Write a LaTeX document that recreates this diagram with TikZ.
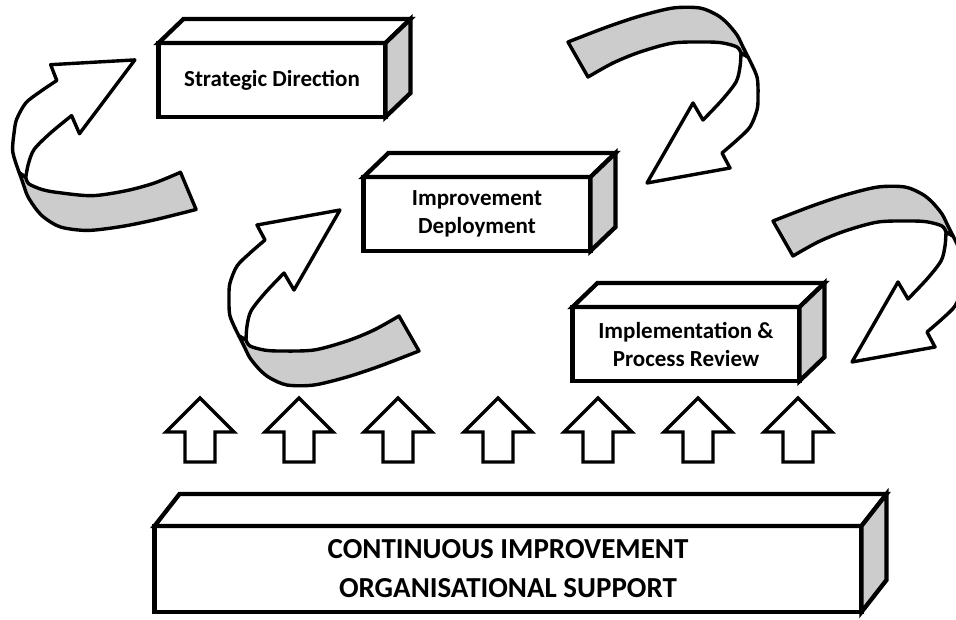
\documentclass[tikz,border=0pt]{standalone}
\usepackage{fontspec}
\setmainfont{Carlito}

\begin{document}
\begin{tikzpicture}[x=1pt,y=-1pt,line width=3.4pt,line join=round,
  block/.style={draw,fill=white,line width=4.3pt,line join=miter,outer sep=0pt,inner sep=0pt,
    minimum width=227pt,minimum height=74pt,align=center,
    font=\bfseries\fontsize{23}{28}\selectfont},
  twirl/.pic={
    % white half of the ribbon, with the arrow head
    \filldraw[fill=white] (-4,-2) -- plot[smooth] coordinates {(-4,-2) (-5,12) (-9,27) (-23,45) (-42,65)}
      -- (-52,48) -- (-98,128) -- (-15,113) -- (-23,98)
      -- plot[smooth] coordinates {(-23,98) (-8,85) (5,72) (12,55) (13,42) (12,22) (3,2)} -- cycle;
    % grey back of the ribbon
    \filldraw[fill=gray!40] (-177,-13) -- plot[smooth] coordinates {(-177,-13) (-138,-28) (-105,-39) (-72,-47)
      (-45,-47) (-28,-40) (-18,-32) (-8,-20) (-2,-8) (3,2)} -- (-4,-2)
      -- plot[smooth] coordinates {(-4,-2) (-8,-8) (-22,-12) (-38,-13) (-72,-12) (-105,-3) (-132,8) (-157,22)} -- cycle;
  }]
\useasboundingbox (0,0) rectangle (956,619);

% the three steps
\node[block] (strat) at (272,80) {Strategic Direction};
\node[block] (deploy) at (477,214) {Improvement\\Deployment};
\node[block] (review) at (686,344) {Implementation \&\\Process Review};
\foreach \n in {strat,deploy,review}
{
\filldraw[fill=white,line width=4.3pt,line join=miter] (\n.north west) -- ++(25,-24) -- ([shift={(25,-24)}]\n.north east) -- (\n.north east) -- cycle;
\filldraw[fill=gray!40,line width=4.3pt,line join=miter] (\n.north east) -- ++(25,-24) -- ([shift={(25,-24)}]\n.south east) -- (\n.south east) -- cycle;
}

% base
\node[block,minimum width=707pt,minimum height=86pt,font=\bfseries\fontsize{29}{39}\selectfont] (support) at (508,569)
  {CONTINUOUS IMPROVEMENT\\ORGANISATIONAL SUPPORT};
\filldraw[fill=white,line width=4.3pt,line join=miter] (support.north west) -- ++(25,-32) -- ([shift={(25,-32)}]support.north east) -- (support.north east) -- cycle;
\filldraw[fill=gray!40,line width=4.3pt,line join=miter] (support.north east) -- ++(25,-32) -- ([shift={(25,-32)}]support.south east) -- (support.south east) -- cycle;

% up arrows
\foreach \x in {200,299,398,498,598,698,798}
\draw[shift={(\x,462)},line join=miter] (-15,0) -- (-15,-30) -- (-34,-30) -- (0,-64) -- (34,-30) -- (15,-30) -- (15,0) -- cycle;

% curved arrows
\pic[rotate=173] at (22,175) {twirl};
\pic at (745,55) {twirl};
\pic[rotate=180] at (242,338) {twirl};
\pic at (950,234) {twirl};
\end{tikzpicture}
\end{document}
